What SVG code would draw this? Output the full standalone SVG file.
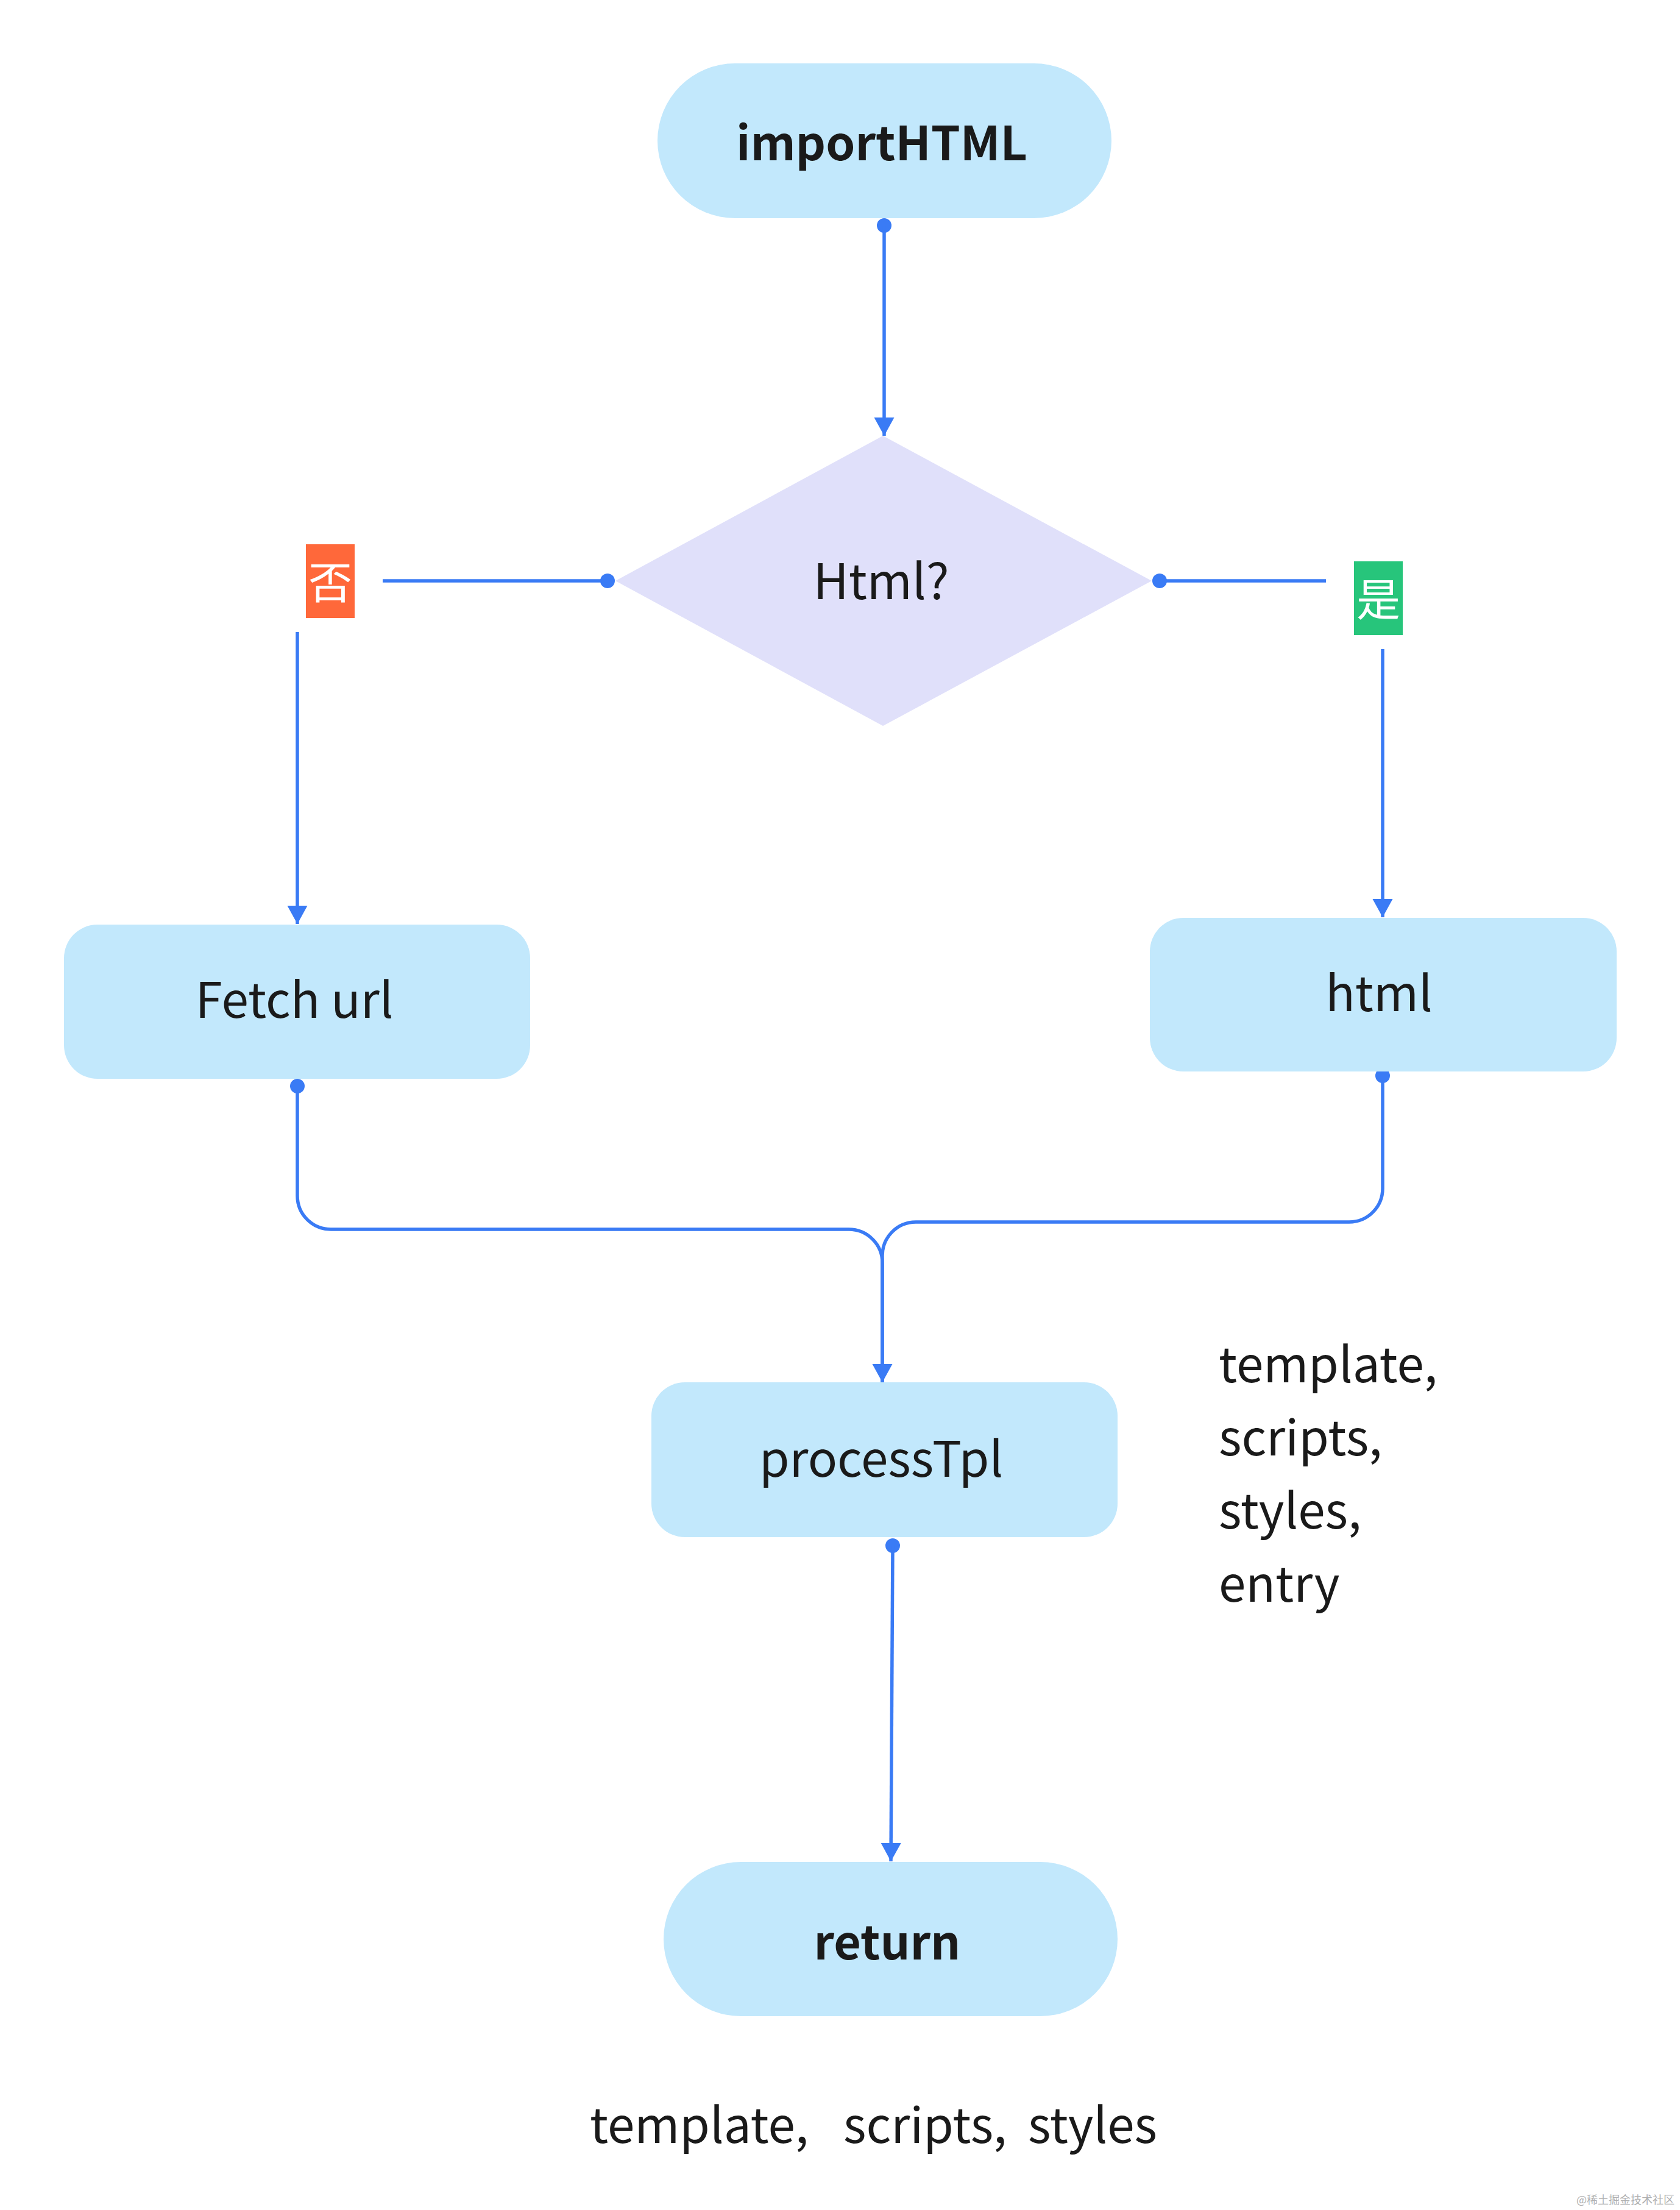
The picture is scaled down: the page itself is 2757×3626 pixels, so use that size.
<svg xmlns="http://www.w3.org/2000/svg" width="2757" height="3626" viewBox="0 0 2757 3626">
<style>
.bg{fill:#ffffff}
.term{fill:#C2E8FC}
.proc{fill:#C2E8FC}
.dec{fill:#E0E0FA}
.t{font-family:"Noto Sans CJK SC","Noto Sans",sans-serif;font-size:80px;fill:#1a1a1a}
.b{font-weight:bold;font-size:77px}
.m{text-anchor:middle}
.lbl{font-family:"Noto Sans CJK SC",sans-serif;font-size:72px;fill:#ffffff;text-anchor:middle}
.ln{fill:none;stroke:#3A7BF5;stroke-width:5.5}
.dot{fill:#3A7BF5}
.wm{font-family:"Noto Sans CJK SC",sans-serif;font-size:18px;fill:#b0b0b0;text-anchor:end}
</style>
<defs>
<marker id="arr" markerUnits="userSpaceOnUse" markerWidth="34" markerHeight="34" refX="30" refY="16.5" orient="auto">
<path d="M0,0 L30,16.5 L0,33 Z" fill="#3A7BF5"/>
</marker>
</defs>
<rect class="bg" x="0" y="0" width="2757" height="3626"/>

<g id="connectors">
<circle class="dot" cx="1451" cy="370" r="12"/>
<path class="ln" d="M1451,370 V715" marker-end="url(#arr)"/>

<circle class="dot" cx="997" cy="953" r="12"/>
<path class="ln" d="M997,953 H628"/>
<path class="ln" d="M488,1037 V1516" marker-end="url(#arr)"/>

<circle class="dot" cx="1903" cy="953" r="12"/>
<path class="ln" d="M1903,953 H2176"/>
<path class="ln" d="M2269,1065 V1505" marker-end="url(#arr)"/>

<circle class="dot" cx="488" cy="1782" r="12"/>
<path class="ln" d="M488,1782 V1962 A55,55 0 0 0 543,2017 H1393 A55,55 0 0 1 1448,2072 V2268" marker-end="url(#arr)"/>
<circle class="dot" cx="2269" cy="1765" r="12"/>
<path class="ln" d="M2269,1765 V1950 A55,55 0 0 1 2214,2005 H1503 A55,55 0 0 0 1448,2060 V2268"/>

<circle class="dot" cx="1465" cy="2536" r="12"/>
<path class="ln" d="M1465,2536 L1462,3054" marker-end="url(#arr)"/>
</g>

<g id="label-no">
<rect x="502" y="893" width="80" height="121" fill="#FF683A"/>
<text class="lbl" x="542" y="982">否</text>
</g>
<g id="label-yes">
<rect x="2222" y="921" width="80" height="121" fill="#27C57B"/>
<text class="lbl" x="2262" y="1010">是</text>
</g>

<g id="node-importHTML">
<rect class="term" x="1079" y="104" width="745" height="254" rx="127"/>
<text class="t b m" x="1447" y="263">importHTML</text>
</g>

<g id="node-html-q">
<polygon class="dec" points="1449,715 1890,953 1449,1191 1010,953"/>
<text class="t m" x="1446" y="983">Html?</text>
</g>

<g id="node-fetch">
<rect class="proc" x="105" y="1517" width="765" height="253" rx="55"/>
<text class="t m" x="483" y="1670">Fetch url</text>
</g>

<g id="node-html">
<rect class="proc" x="1887" y="1506" width="766" height="252" rx="55"/>
<text class="t m" x="2263" y="1659">html</text>
</g>

<g id="node-processTpl">
<rect class="proc" x="1069" y="2268" width="765" height="254" rx="55"/>
<text class="t m" x="1446" y="2423">processTpl</text>
</g>

<g id="note-right">
<text class="t" x="2000" y="2268">template,</text>
<text class="t" x="2000" y="2388">scripts,</text>
<text class="t" x="2000" y="2508">styles,</text>
<text class="t" x="2000" y="2628">entry</text>
</g>

<g id="node-return">
<rect class="term" x="1089" y="3055" width="745" height="253" rx="126.5"/>
<text class="t b m" x="1456" y="3215">return</text>
</g>

<g id="note-bottom">
<text class="t" y="3516"><tspan x="968">template,</tspan><tspan x="1384">scripts,</tspan><tspan x="1687">styles</tspan></text>
</g>

<text class="wm" x="2748" y="3616">@稀土掘金技术社区</text>
</svg>
